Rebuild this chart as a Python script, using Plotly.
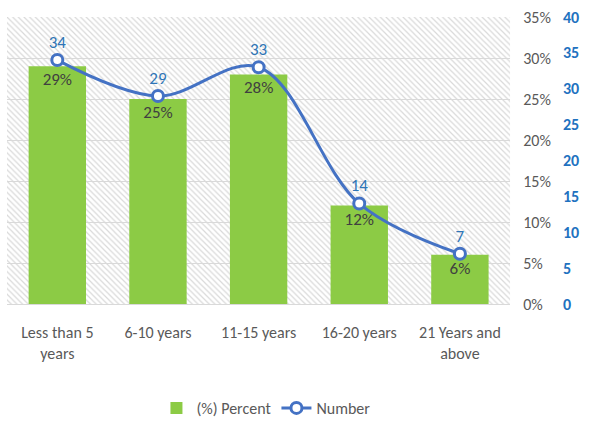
import plotly.graph_objects as go

categories = ["Less than 5<br>years", "6-10 years", "11-15 years", "16-20 years", "21 Years and<br>above"]
percent = [0.29, 0.25, 0.28, 0.12, 0.06]
number = [34, 29, 33, 14, 7]
pct_ticks = [0, 0.05, 0.10, 0.15, 0.20, 0.25, 0.30, 0.35]
num_ticks = [0, 5, 10, 15, 20, 25, 30, 35, 40]

FONT = "Carlito, Lato, sans-serif"
GREEN = "#8CCB45"
BLUE = "#4472C4"
LBLUE = "#2E75B6"
GRAY = "#595959"

fig = go.Figure()

# hatched plot background (decoration on a hidden unit axis)
fig.add_trace(go.Bar(
    x=[0.5], y=[1], width=[1], xaxis="x", yaxis="y",
    marker=dict(color="#D9D9D9", line=dict(width=0),
                pattern=dict(shape="\\", fgcolor="#D9D9D9", bgcolor="rgba(255,255,255,0)",
                             fillmode="replace", size=4, solidity=0.3)),
    showlegend=False, hoverinfo="skip",
))

fig.add_trace(go.Bar(
    x=categories, y=percent, xaxis="x2", yaxis="y2",
    name="(%) Percent", marker=dict(color=GREEN, line=dict(width=0)),
    width=0.57,
    text=[f"{round(v*100)}%" for v in percent], textposition="inside",
    insidetextanchor="end", textangle=0,
    textfont=dict(family=FONT, size=17, color="#404040"),
))

fig.add_trace(go.Scatter(
    x=categories, y=number, xaxis="x2", yaxis="y3",
    name="Number", mode="lines+markers+text",
    line=dict(color=BLUE, width=3, shape="spline", smoothing=1.0),
    marker=dict(symbol="circle", size=11, color="white", line=dict(color=BLUE, width=3)),
    text=[str(v) for v in number], textposition="top center",
    textfont=dict(family=FONT, size=17, color=LBLUE),
))

fig.update_layout(
    width=591, height=421,
    margin=dict(l=7, r=31, t=17, b=117, autoexpand=False),
    paper_bgcolor="white", plot_bgcolor="white",
    font=dict(family=FONT, size=16, color=GRAY),
    barmode="overlay",
    xaxis=dict(domain=[0, 0.91], range=[0, 1], visible=False, fixedrange=True),
    yaxis=dict(range=[0, 1], visible=False, showgrid=False),
    xaxis2=dict(overlaying="x", anchor="y2", showgrid=False, showline=True,
                linecolor="#D9D9D9", linewidth=1, ticks="", automargin=False,
                ticklabelstandoff=14,
                tickfont=dict(family=FONT, size=16, color=GRAY)),
    yaxis2=dict(overlaying="y", anchor="x2", side="right", range=[0, 0.35],
                tickvals=pct_ticks, tickformat=".0%", showgrid=True,
                gridcolor="#D9D9D9", gridwidth=1, zeroline=False, ticks="",
                ticklabelstandoff=12, automargin=False,
                tickfont=dict(family=FONT, size=16, color=GRAY)),
    yaxis3=dict(overlaying="y", anchor="free", position=1.0, side="right",
                range=[0, 40], tickvals=num_ticks, showgrid=False, zeroline=False,
                ticks="", ticklabelstandoff=2, automargin=False,
                tickfont=dict(family=FONT, size=16, color="#1F72C0", weight="bold")),
    legend=dict(orientation="h", x=0.45, xref="container", xanchor="center",
                y=13 / 421, yref="container", yanchor="middle",
                font=dict(family=FONT, size=16, color=GRAY), traceorder="normal"),
)

fig.write_html("out.html")
